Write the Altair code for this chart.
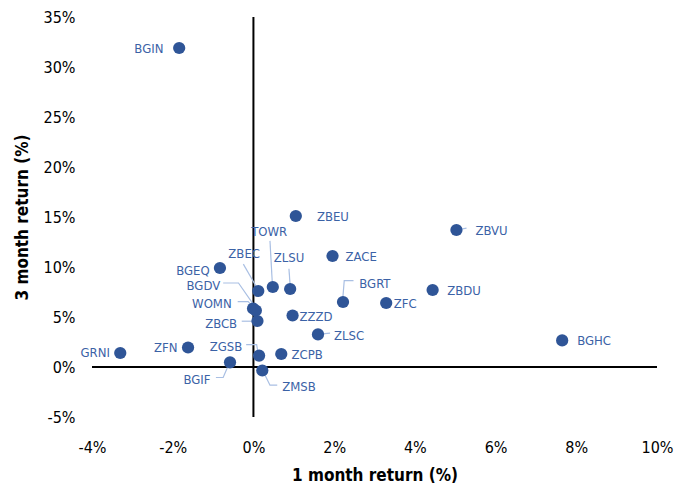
import altair as alt
import pandas as pd

names = ["BGIN", "ZBEU", "ZBVU", "ZACE", "BGEQ", "TOWR", "ZLSU", "ZBEC", "BGRT", "ZFC",
         "ZBDU", "BGDV", "WOMN", "ZBCB", "ZZZD", "ZLSC", "ZGSB", "ZCPB", "BGIF", "ZMSB",
         "ZFN", "GRNI", "BGHC"]
ret_1m = [-1.84, 1.05, 5.03, 1.96, -0.83, 0.48, 0.91, 0.12, 2.22, 3.29,
          4.44, -0.01, 0.06, 0.10, 0.97, 1.60, 0.14, 0.69, -0.58, 0.22,
          -1.62, -3.30, 7.65]
ret_3m = [31.9, 15.1, 13.7, 11.1, 9.9, 8.0, 7.8, 7.6, 6.5, 6.4,
          7.7, 5.85, 5.65, 4.6, 5.15, 3.26, 1.14, 1.3, 0.47, -0.35,
          1.95, 1.4, 2.66]
# label anchor positions (data units)
label_x = [-2.59, 1.97, 5.90, 2.67, -1.50, 0.39, 0.88, -0.23, 3.01, 3.76,
           5.22, -1.24, -1.03, -0.80, 1.55, 2.37, -0.68, 1.33, -1.40, 1.13,
           -2.17, -3.92, 8.44]
label_y = [31.8, 15.0, 13.6, 11.0, 9.6, 13.5, 10.9, 11.3, 8.3, 6.35,
           7.6, 8.1, 6.3, 4.35, 5.0, 3.15, 1.96, 1.17, -1.3, -2.0,
           1.87, 1.37, 2.57]

# leader lines: name, x path, y path (data units)
leader_names = ["TOWR", "ZLSU", "ZBEC", "BGDV", "WOMN", "ZBCB", "ZGSB", "BGIF", "ZMSB",
                "ZLSC", "ZBVU", "BGRT"]
leader_x = [[0.41, 0.47], [0.88, 0.91], [-0.25, 0.08], [-0.75, -0.37, 0.02],
            [-0.39, -0.13, 0.04], [-0.29, 0.04], [-0.18, 0.08, 0.12],
            [-0.93, -0.75, -0.62], [0.25, 0.41, 0.59], [1.57, 1.90],
            [5.03, 5.28], [2.21, 2.25, 2.48]]
leader_y = [[12.61, 8.23], [9.83, 8.14], [10.29, 7.97], [8.4, 8.4, 6.14],
            [6.54, 6.54, 5.82], [4.58, 4.58], [2.23, 2.23, 1.27],
            [-1.05, -1.05, 0.17], [-0.49, -1.82, -1.82], [3.26, 3.39],
            [13.7, 13.88], [6.64, 8.63, 8.63]]

x_ticks = [-4, -2, 0, 2, 4, 6, 8, 10]
y_ticks = [-5, 0, 5, 10, 15, 20, 25, 30, 35]

df = pd.DataFrame({"name": names, "m1": ret_1m, "m3": ret_3m, "lx": label_x, "ly": label_y})
rows = []
for n, xs, ys in zip(leader_names, leader_x, leader_y):
    for i, (a, b) in enumerate(zip(xs, ys)):
        rows.append({"name": n, "order": i, "x": a, "y": b})
lead = pd.DataFrame(rows)

FONT = "DejaVu Sans Condensed, Liberation Sans, sans-serif"
xscale = alt.Scale(domain=[-4, 10], nice=False, zero=False)
yscale = alt.Scale(domain=[-5, 35], nice=False, zero=False)

xaxis = alt.Axis(values=x_ticks, labelExpr="datum.value + '%'", grid=False, domain=False,
                 ticks=False, labelFont=FONT, labelFontSize=16, labelColor="#000000",
                 labelPadding=22, labelFlush=False, labelOverlap=False,
                 title="1 month return (%)", titleFont=FONT,
                 titleFontSize=17, titleFontWeight="bold", titleColor="#000000",
                 titlePadding=12)
yaxis = alt.Axis(values=y_ticks, labelExpr="datum.value + '%'", grid=False, domain=False,
                 ticks=False, labelFont=FONT, labelFontSize=16, labelColor="#000000",
                 labelPadding=17, labelFlush=False, labelOverlap=False,
                 title="3 month return (%)", titleFont=FONT,
                 titleFontSize=17, titleFontWeight="bold", titleColor="#000000",
                 titlePadding=12)

base = alt.Chart(df)

hline = alt.Chart(pd.DataFrame({"x": [x_ticks[0]], "x2": [x_ticks[-1]], "y": [0]})).mark_rule(
    color="#000000", strokeWidth=2).encode(
    x=alt.X("x:Q", scale=xscale, axis=xaxis), x2="x2:Q",
    y=alt.Y("y:Q", scale=yscale, axis=yaxis))
vline = alt.Chart(pd.DataFrame({"x": [0], "y": [y_ticks[0]], "y2": [y_ticks[-1]]})).mark_rule(
    color="#000000", strokeWidth=2).encode(
    x=alt.X("x:Q", scale=xscale), y=alt.Y("y:Q", scale=yscale), y2="y2:Q")

leaders = alt.Chart(lead).mark_line(color="#A9BFE3", strokeWidth=1.2).encode(
    x=alt.X("x:Q", scale=xscale), y=alt.Y("y:Q", scale=yscale),
    detail="name:N", order="order:O")

points = base.mark_circle(size=150, color="#2F5597", opacity=1).encode(
    x=alt.X("m1:Q", scale=xscale), y=alt.Y("m3:Q", scale=yscale))

labels = base.mark_text(font=FONT, fontSize=13, color="#3B62A6", align="center",
                        baseline="middle").encode(
    x=alt.X("lx:Q", scale=xscale), y=alt.Y("ly:Q", scale=yscale), text="name:N")

chart = alt.layer(hline, vline, leaders, points, labels).properties(
    width=565, height=400,
    autosize=alt.AutoSizeParams(type="none"),
    padding={"left": 84, "top": 9, "right": 20, "bottom": 68},
).configure_view(stroke=None)

chart.save("out.html", embed_options={"renderer": "svg", "actions": False})
